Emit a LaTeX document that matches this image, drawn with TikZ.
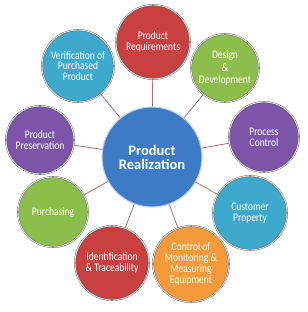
\documentclass[tikz,border=0pt]{standalone}
\usepackage{fontspec}
\setmainfont{Carlito}
\newfontfamily\condfont[FakeStretch=0.82]{Carlito}
\definecolor{bred}{HTML}{C8403F}
\definecolor{bgreen}{HTML}{8CBE4C}
\definecolor{bcyan}{HTML}{3CA9CD}
\definecolor{bpurple}{HTML}{7C54A8}
\definecolor{borange}{HTML}{F49A3A}
\definecolor{bblue}{HTML}{3D7BC6}
\definecolor{linkc}{HTML}{B86B6B}
\newcommand\mkglossy[1]{%
  \pgfdeclareradialshading{g#1}{\pgfpoint{0bp}{0bp}}{%
    color(0bp)=(#1); color(35bp)=(#1); color(46bp)=(#1!82!white); color(50bp)=(#1!68!white)}}
\mkglossy{bred}
\mkglossy{bgreen}
\mkglossy{bcyan}
\mkglossy{bpurple}
\mkglossy{borange}
\mkglossy{bblue}
\begin{document}
\begin{tikzpicture}[x=1pt,y=-1pt,
  bub/.style={circle, minimum size=#1, inner sep=0pt,
    draw=gray!65!black, double=gray!15, double distance=0.9pt, line width=0.35pt,
    text=white, align=center, font=\condfont\fontsize{11.6}{10.8}\selectfont},
  hub/.style={circle, minimum size=#1, inner sep=0pt, shading=gbblue,
    draw=bblue!35!white, line width=1.1pt,
    text=white, align=center, font=\bfseries\fontsize{14.5}{14}\selectfont},
  link/.style={draw=linkc, line width=0.8pt}]
\useasboundingbox (0,0) rectangle (307,312);
\fill[white] (0,0) rectangle (307,312);
\node[hub=100pt] (c) at (152,157) {Product\\Realization};
\node[bub=74pt, shading=gbred] (pr) at (153,42) {Product\\Requirements};
\node[bub=68pt, shading=gbgreen] (dd) at (225,68) {Design\\[2pt]\&\\[2pt]Development};
\node[bub=72pt, shading=gbcyan] (vp) at (78,66) {Verification of\\Purchased\\Product};
\node[bub=68pt, shading=gbpurple] (pp) at (40,140) {Product\\Preservation};
\node[bub=70pt, shading=gbpurple] (pc) at (264,137) {Process\\Control};
\node[bub=70pt, shading=gbgreen] (pu) at (53,212) {Purchasing};
\node[bub=74pt, shading=gbred] (it) at (112,263) {Identification\\\& Traceability};
\node[bub=76pt, shading=gborange] (cm) at (191,264) {Control of\\Monitoring \&\\Measuring\\Equipment};
\node[bub=74pt, shading=gbcyan] (cp) at (250,213) {Customer\\Property};
\foreach \o in {pr,dd,vp,pp,pc,pu,it,cm,cp}
  \draw[link] (c) -- (\o);
\end{tikzpicture}
\end{document}
